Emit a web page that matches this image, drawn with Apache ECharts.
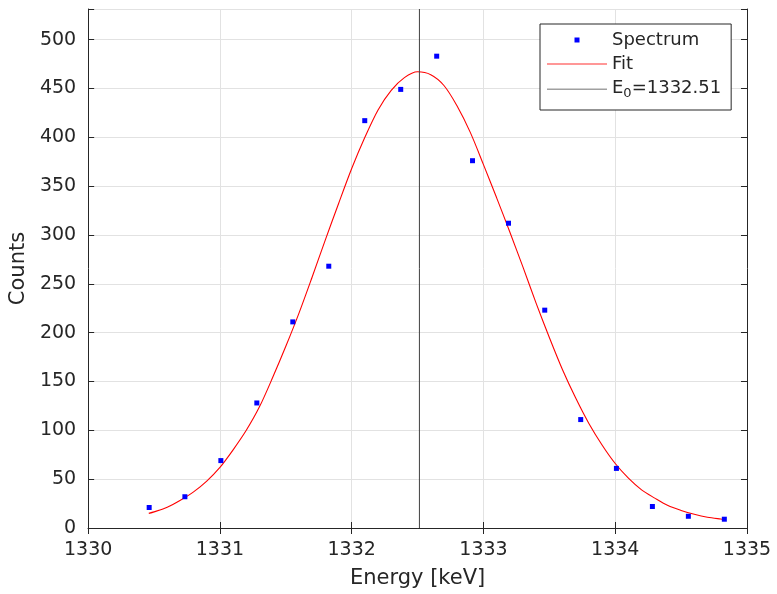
<!DOCTYPE html>
<html>
<head>
<meta charset="utf-8">
<script src="https://cdn.jsdelivr.net/npm/echarts@6/dist/echarts.min.js"></script>
<style>html,body{margin:0;padding:0;background:#fff;}#c{width:777px;height:594px;}</style>
</head>
<body>
<div id="c"></div>
<script>
// Measured spectrum points
const energy = [1330.463, 1330.734, 1331.007, 1331.280, 1331.553, 1331.826, 1332.099, 1332.372, 1332.645, 1332.917, 1333.190, 1333.465, 1333.738, 1334.009, 1334.282, 1334.555, 1334.828];
const counts = [21, 32, 69, 128, 211, 268, 417, 449, 483, 376, 312, 223, 111, 61, 22, 12, 9];
// Fit curve
const fitEnergy = [1330.46, 1330.5, 1330.6, 1330.7, 1330.8, 1330.9, 1331.0, 1331.1, 1331.2, 1331.3, 1331.4, 1331.5, 1331.6, 1331.7, 1331.8, 1331.9, 1332.0, 1332.1, 1332.2, 1332.3, 1332.4, 1332.5, 1332.6, 1332.7, 1332.8, 1332.9, 1333.0, 1333.1, 1333.2, 1333.3, 1333.4, 1333.5, 1333.6, 1333.7, 1333.8, 1333.9, 1334.0, 1334.1, 1334.2, 1334.3, 1334.4, 1334.5, 1334.6, 1334.7, 1334.8, 1334.83];
const fitCounts = [15, 16.5, 21.3, 28.5, 37, 48, 62, 80, 100, 124, 154, 186, 220, 257, 295, 332, 368, 400, 428, 448, 461, 467, 464, 453, 432, 405, 372, 338, 303, 267, 230, 195, 162, 133, 107, 85, 66, 51, 39, 30.6, 23, 18, 14, 11, 9.2, 8.8];
// Peak position
const E0 = 1332.514;
const E0Label = '1332.51';
const xTicks = { min: 1330, max: 1335, step: 1 };
const yTicks = { min: 0, max: 531.3, step: 50 };

const FONT = 'DejaVu Sans';
const TXT = '#262626';
const GRIDC = '#e2e2e2';

const chart = echarts.init(document.getElementById('c'), null, { renderer: 'canvas' });

const scatterData = energy.map((e, i) => [e, counts[i]]);
const fitData = fitEnergy.map((e, i) => [e, fitCounts[i]]);
const e0Data = [[E0, yTicks.min], [E0, yTicks.max]];

const baseAxisLine = { show: true, lineStyle: { color: TXT, width: 1 } };
const baseTick = { show: true, inside: true, length: 6, lineStyle: { color: TXT, width: 1 } };

chart.setOption({
  animation: false,
  backgroundColor: '#fff',
  textStyle: { fontFamily: FONT },
  grid: { left: 88, right: 30, top: 9, bottom: 65, containLabel: false },
  xAxis: [
    {
      type: 'value', min: xTicks.min, max: xTicks.max, interval: xTicks.step,
      position: 'bottom',
      axisLine: baseAxisLine, axisTick: baseTick,
      splitLine: { show: true, lineStyle: { color: GRIDC, width: 1 } },
      axisLabel: { fontSize: 19, color: TXT, margin: 13, fontFamily: FONT, formatter: v => String(v) },
      name: 'Energy [keV]', nameLocation: 'middle', nameGap: 40,
      nameTextStyle: { fontSize: 21, color: TXT, fontFamily: FONT }
    },
    {
      type: 'value', min: xTicks.min, max: xTicks.max, interval: xTicks.step,
      position: 'top',
      axisLine: baseAxisLine, axisTick: baseTick,
      splitLine: { show: false }, axisLabel: { show: false }
    }
  ],
  yAxis: [
    {
      type: 'value', min: yTicks.min, max: yTicks.max, interval: yTicks.step,
      position: 'left',
      axisLine: baseAxisLine, axisTick: baseTick,
      splitLine: { show: true, lineStyle: { color: GRIDC, width: 1 } },
      axisLabel: {
        fontSize: 19, color: TXT, margin: 12, fontFamily: FONT,
        formatter: v => (Math.abs(v % yTicks.step) < 1e-6 ? String(v) : '')
      },
      name: 'Counts', nameLocation: 'middle', nameGap: 48, nameRotate: 90,
      nameTextStyle: { fontSize: 21, color: TXT, fontFamily: FONT }
    },
    {
      type: 'value', min: yTicks.min, max: yTicks.max, interval: yTicks.step,
      position: 'right',
      axisLine: baseAxisLine, axisTick: baseTick,
      splitLine: { show: false }, axisLabel: { show: false }
    }
  ],
  legend: {
    orient: 'vertical', left: 540, top: 24,
    itemWidth: 60, itemHeight: 14, itemGap: 6,
    padding: [7, 10, 10, 7],
    backgroundColor: '#fff', borderColor: TXT, borderWidth: 1, borderRadius: 0,
    textStyle: {
      fontSize: 18, color: TXT, fontFamily: FONT,
      rich: {
        n: { fontSize: 18, color: TXT, fontFamily: FONT, lineHeight: 20, verticalAlign: 'top' },
        s: { fontSize: 13, color: TXT, fontFamily: FONT, lineHeight: 20, verticalAlign: 'top', padding: [8, 0, 0, 0] }
      }
    },
    formatter: name => name === 'E0' ? '{n|E}{s|0}{n|=' + E0Label + '}' : name,
    data: [
      { name: 'Spectrum', icon: 'path://M0 0M60 14M27.5 4.5h5v5h-5Z', itemStyle: { color: '#0000ff', opacity: 1 } },
      { name: 'Fit', icon: 'path://M0 0M60 14M0 6.5h60v1h-60Z', itemStyle: { color: '#ff3030' } },
      { name: 'E0', icon: 'path://M0 0M60 14M0 6.5h60v1.5h-60Z', itemStyle: { color: '#a0a0a0' } }
    ]
  },
  series: [
    {
      name: 'Fit', type: 'line', data: fitData, smooth: 0.3,
      symbol: 'none', showSymbol: false,
      lineStyle: { color: '#ff0000', width: 1.1 }, itemStyle: { color: '#ff0000' },
      z: 3
    },
    {
      name: 'E0', type: 'line', data: e0Data,
      symbol: 'none', showSymbol: false,
      lineStyle: { color: '#404040', width: 1 }, itemStyle: { color: '#404040' },
      z: 4
    },
    {
      name: 'Spectrum', type: 'scatter', data: scatterData,
      symbol: 'rect', symbolSize: 5,
      itemStyle: { color: '#0000ff', opacity: 1 },
      z: 5
    }
  ]
});
</script>
</body>
</html>
